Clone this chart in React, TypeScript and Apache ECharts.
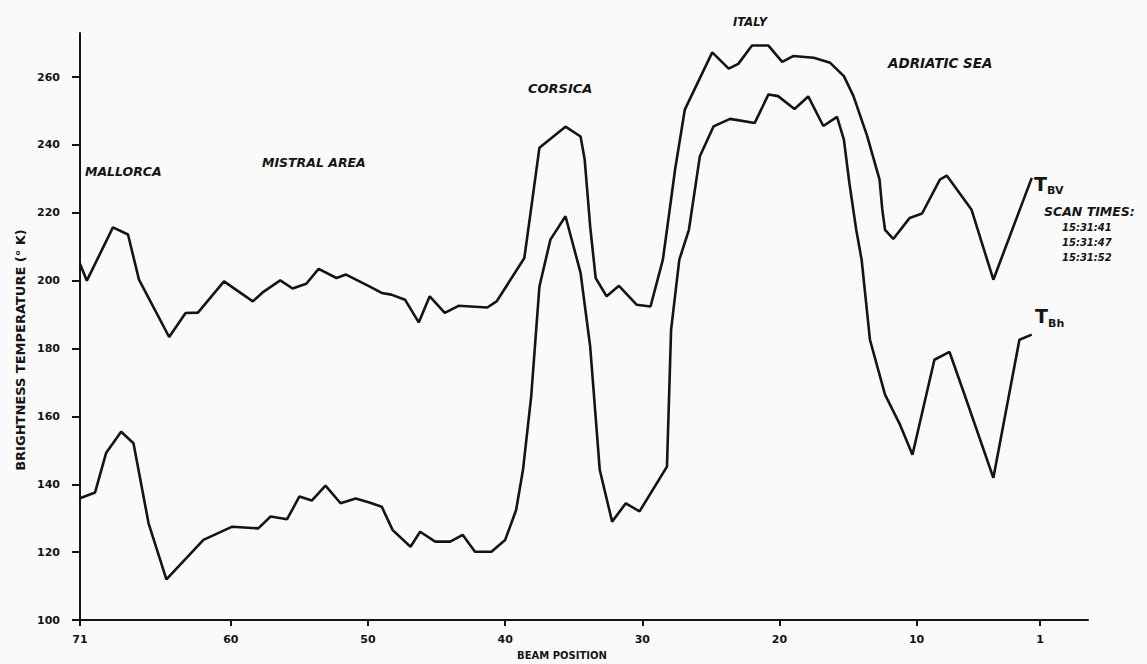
import React, { useEffect, useRef } from "react";
import * as echarts from "echarts";

// Beam positions / brightness temperatures (K)
const beamV = [71, 70.5, 68.6, 67.5, 66.7, 64.5, 63.3, 62.4, 60.5, 58.4, 57.6, 56.4, 55.5, 54.5, 53.6, 52.3, 51.6, 49.9, 49.0, 48.3, 47.3, 46.3, 45.5, 44.4, 43.4, 41.3, 40.6, 38.6, 38.1, 37.5, 35.6, 34.5, 34.2, 33.8, 33.4, 32.6, 31.7, 30.4, 29.4, 28.5, 28.2, 27.6, 26.9, 24.9, 23.7, 23.0, 22.0, 20.8, 19.8, 19.0, 17.5, 16.3, 15.3, 14.6, 13.6, 12.7, 12.5, 12.3, 11.7, 10.5, 9.6, 8.3, 7.8, 6.0, 4.4, 1.6];
const tbv = [205, 200, 215.7, 213.6, 200.3, 183.4, 190.5, 190.6, 199.8, 193.9, 196.8, 200.1, 197.7, 199.1, 203.5, 200.8, 201.8, 198.3, 196.4, 195.9, 194.4, 187.7, 195.4, 190.5, 192.6, 192.1, 194, 206.7, 221.4, 239.2, 245.4, 242.5, 235.7, 216, 200.8, 195.4, 198.5, 192.9, 192.4, 206.2, 215, 233, 250.4, 267.3, 262.5, 263.9, 269.3, 269.3, 264.5, 266.2, 265.7, 264.2, 260.3, 254.4, 242.6, 229.8, 221, 215, 212.3, 218.5, 219.8, 229.8, 231, 221, 200.3, 230.3];

const beamH = [71, 69.9, 69.1, 68.0, 67.1, 66.0, 64.7, 62.0, 59.9, 58.0, 57.1, 55.9, 55.0, 54.1, 53.1, 52.0, 50.9, 49.9, 49.0, 48.2, 46.9, 46.2, 45.1, 44.0, 43.1, 42.2, 41.0, 40.0, 39.2, 38.7, 38.1, 37.5, 36.7, 35.6, 34.5, 33.8, 33.1, 32.2, 31.2, 30.2, 28.2, 27.9, 27.3, 26.6, 25.8, 24.8, 23.6, 21.8, 20.8, 20.1, 18.9, 17.9, 16.8, 15.8, 15.3, 14.9, 14.4, 14.0, 13.4, 12.3, 11.2, 10.3, 8.7, 7.6, 6.5, 4.4, 2.5, 1.6];
const tbh = [135.9, 137.6, 149.2, 155.5, 152.1, 128.5, 112, 123.6, 127.5, 127, 130.5, 129.7, 136.4, 135.2, 139.6, 134.4, 135.8, 134.6, 133.4, 126.5, 121.6, 126, 123.1, 123.1, 125.1, 120.1, 120.1, 123.6, 132.4, 144.2, 165.9, 198.3, 212.1, 219, 202.3, 180.6, 144.2, 129, 134.4, 132, 145.2, 185.5, 206.2, 215, 236.7, 245.5, 247.7, 246.5, 254.9, 254.4, 250.6, 254.3, 245.6, 248.3, 241.6, 228.8, 215, 206, 182.6, 166.4, 157.5, 148.7, 176.7, 179, 166.4, 141.9, 182.6, 184.1];

const xTicks = [71, 60, 50, 40, 30, 20, 10, 1];
const yTicks = [100, 120, 140, 160, 180, 200, 220, 240, 260];

const regionLabels = ["MALLORCA", "MISTRAL AREA", "CORSICA", "ITALY", "ADRIATIC SEA"];
const scanTimes = ["15:31:41", "15:31:47", "15:31:52"];

const INK = "#141414";
const FONT = "'DejaVu Sans', 'Liberation Sans', sans-serif";

export default function App() {
  const ref = useRef<HTMLDivElement>(null);
  useEffect(() => {
    if (!ref.current) return;
    const chart = echarts.init(ref.current, null, { renderer: "svg" });
    const regionPos = [
      [85, 171, 12.5],
      [262, 162, 12.5],
      [528, 88, 13],
      [733, 22, 11.5],
      [888, 63, 13.5],
    ];
    const label = (text: string, x: number, y: number, size: number, extra: any = {}) => ({
      type: "text",
      x,
      y,
      style: {
        text,
        fill: INK,
        font: `${extra.italic === false ? "" : "italic "}bold ${size}px ${FONT}`,
        align: extra.align || "left",
        verticalAlign: "middle",
      },
      rotation: extra.rotation || 0,
    });
    const graphics: any[] = [];
    regionLabels.forEach((t, i) => graphics.push(label(t, regionPos[i][0], regionPos[i][1], regionPos[i][2])));
    graphics.push(label("T", 1034, 184, 19, { italic: false }));
    graphics.push(label("BV", 1047, 190, 11, { italic: false }));
    graphics.push(label("SCAN TIMES:", 1044, 211, 12.5));
    scanTimes.forEach((t, i) => graphics.push(label(t, 1062, 227 + i * 15, 10)));
    graphics.push(label("T", 1035, 316, 19, { italic: false }));
    graphics.push(label("Bh", 1048, 323, 11, { italic: false }));
    graphics.push(label("BRIGHTNESS TEMPERATURE (° K)", 20, 350, 13, { italic: false, align: "center", rotation: Math.PI / 2 }));
    graphics.push(label("BEAM POSITION", 562, 655, 10, { italic: false, align: "center" }));

    chart.setOption({
      animation: false,
      backgroundColor: "#fafafa",
      grid: { left: 80, right: 59, top: 33, bottom: 44 },
      xAxis: {
        type: "value",
        inverse: true,
        min: -2.5,
        max: 71,
        splitLine: { show: false },
        axisLine: { onZero: false, lineStyle: { color: INK, width: 2 } },
        axisTick: { customValues: xTicks, length: 6, lineStyle: { color: INK, width: 2 } },
        axisLabel: {
          customValues: xTicks,
          color: INK,
          fontWeight: "bold",
          fontSize: 11,
          fontFamily: FONT,
          margin: 14,
        },
      },
      yAxis: {
        type: "value",
        position: "left",
        min: 100,
        max: 273,
        splitLine: { show: false },
        axisLine: { show: true, onZero: false, lineStyle: { color: INK, width: 2 } },
        axisTick: { show: true, customValues: yTicks, length: 8, lineStyle: { color: INK, width: 2 } },
        axisLabel: {
          customValues: yTicks,
          color: INK,
          fontWeight: "bold",
          fontSize: 11,
          fontFamily: FONT,
          margin: 20,
        },
      },
      series: [
        {
          name: "TBV",
          type: "line",
          data: beamV.map((b, i) => [b, tbv[i]]),
          symbol: "none",
          lineStyle: { color: INK, width: 2.6 },
        },
        {
          name: "TBh",
          type: "line",
          data: beamH.map((b, i) => [b, tbh[i]]),
          symbol: "none",
          lineStyle: { color: INK, width: 2.6 },
        },
      ],
      graphic: graphics,
    });
    return () => chart.dispose();
  }, []);
  return (
    <div
      ref={ref}
      style={{ position: "fixed", left: 0, top: 0, width: 1147, height: 664, background: "#fafafa" }}
    />
  );
}
